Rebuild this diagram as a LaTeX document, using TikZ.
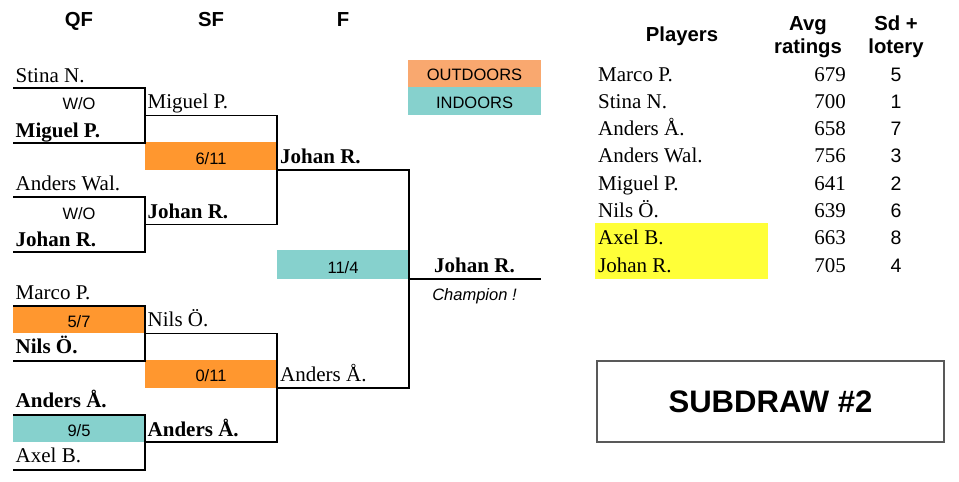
\documentclass[tikz,border=0pt]{standalone}
\usepackage{fontspec}
\setmainfont{Liberation Serif}
\setsansfont{Liberation Sans}
\definecolor{orng}{HTML}{FF972F}
\definecolor{tealc}{HTML}{86D1CD}
\definecolor{lorng}{HTML}{F9A86F}
\definecolor{yel}{HTML}{FFFF38}
\begin{document}
\begin{tikzpicture}[x=1pt,y=-1pt,
  nm/.style={anchor=base west,inner sep=0pt,font=\fontsize{21}{25}\selectfont},
  bnm/.style={anchor=base west,inner sep=0pt,font=\fontsize{21}{25}\selectfont\bfseries},
  cnm/.style={anchor=base,inner sep=0pt,font=\fontsize{21}{25}\selectfont\bfseries},
  sc/.style={anchor=base,inner sep=0pt,font=\sffamily\fontsize{16.5}{19}\selectfont},
  num/.style={anchor=base east,inner sep=0pt,font=\fontsize{21}{25}\selectfont},
  hd/.style={anchor=base,inner sep=0pt,font=\sffamily\bfseries\fontsize{20.3}{24}\selectfont},
  brk/.style={line width=1.2pt,black},
  ]
\useasboundingbox (0,0) rectangle (959,482);
% fills
\fill[orng] (145,142) rectangle (277,170);
\fill[orng] (13,306) rectangle (145,333);
\fill[orng] (145,360) rectangle (277,388);
\fill[tealc] (13,415) rectangle (145,442);
\fill[tealc] (277,250) rectangle (409,279);
\fill[lorng] (408,60) rectangle (541,87);
\fill[tealc] (408,87) rectangle (541,115);
\fill[yel] (595,223) rectangle (768,279);
% bracket corners
\coordinate (q1a) at (13,88);  \coordinate (q1b) at (145,88);  \coordinate (q1c) at (145,143); \coordinate (q1d) at (13,143);
\coordinate (q2a) at (13,197); \coordinate (q2b) at (145,197); \coordinate (q2c) at (145,252); \coordinate (q2d) at (13,252);
\coordinate (q3a) at (13,306); \coordinate (q3b) at (145,306); \coordinate (q3c) at (145,361); \coordinate (q3d) at (13,361);
\coordinate (q4a) at (13,415); \coordinate (q4b) at (145,415); \coordinate (q4c) at (145,470); \coordinate (q4d) at (13,470);
\coordinate (s1a) at (145,115.5); \coordinate (s1b) at (277,115.5); \coordinate (s1c) at (277,224.5); \coordinate (s1d) at (145,224.5);
\coordinate (s2a) at (145,333.5); \coordinate (s2b) at (277,333.5); \coordinate (s2c) at (277,442); \coordinate (s2d) at (145,442);
\coordinate (fa) at (277,170); \coordinate (fb) at (409,170); \coordinate (fc) at (409,388); \coordinate (fd) at (277,388);
\coordinate (ca) at (409,279); \coordinate (cb) at (541,279);
\draw[brk] (q1a) -- (q1b) -- (q1c) -- (q1d);
\draw[brk] (q2a) -- (q2b) -- (q2c) -- (q2d);
\draw[brk] (q3a) -- (q3b) -- (q3c) -- (q3d);
\draw[brk] (q4a) -- (q4b) -- (q4c) -- (q4d);
\draw[brk] (s1a) -- (s1b) -- (s1c) -- (s1d);
\draw[brk] (s2a) -- (s2b) -- (s2c) -- (s2d);
\draw[brk] (fa) -- (fb) -- (fc) -- (fd);
\draw[brk] (ca) -- (cb);
% headers
\node[hd] (hqf) at (79,26.7) {QF};
\node[hd] (hsf) at (211,26.7) {SF};
\node[hd] (hf) at (343,26.7) {F};
% QF
\node[nm] (n1) at (15.5,82) {Stina N.};
\node[sc] (w1) at (79,109) {W/O};
\node[bnm] (n2) at (15.5,137) {Miguel P.};
\node[nm] (n3) at (15.5,190) {Anders Wal.};
\node[sc] (w2) at (79,219) {W/O};
\node[bnm] (n4) at (15.5,246) {Johan R.};
\node[nm] (n5) at (15.5,299.3) {Marco P.};
\node[sc] (r1) at (79,327.7) {5/7};
\node[bnm] (n6) at (15.5,353.3) {Nils Ö.};
\node[bnm] (n7) at (15.5,407.3) {Anders Å.};
\node[sc] (r2) at (79,436.7) {9/5};
\node[nm] (n8) at (15.5,462.7) {Axel B.};
% SF
\node[nm] (s1) at (147.5,108.3) {Miguel P.};
\node[sc] (r3) at (211,164.3) {6/11};
\node[bnm] (s2) at (147.5,218.3) {Johan R.};
\node[nm] (s3) at (147.5,326) {Nils Ö.};
\node[sc] (r4) at (211,381.7) {0/11};
\node[bnm] (s4) at (147.5,436) {Anders Å.};
% F
\node[bnm] (f1) at (280,163.3) {Johan R.};
\node[sc] (r5) at (343,273.3) {11/4};
\node[nm] (f2) at (280,381.7) {Anders Å.};
\node[cnm] (ch) at (474.5,272.3) {Johan R.};
\node[sc,font=\sffamily\itshape\fontsize{16.5}{19}\selectfont] (cht) at (474.5,300) {Champion !};
% legend
\node[sc] (lo) at (474.5,80) {OUTDOORS};
\node[sc] (li) at (474.5,108.3) {INDOORS};
% table
\node[hd] (tp) at (682,41.7) {Players};
\node[hd] (ta1) at (808,30) {Avg};
\node[hd] (ta2) at (808,53.3) {ratings};
\node[hd] (ts1) at (896,30) {Sd +};
\node[hd] (ts2) at (896,53.3) {lotery};
\foreach \i/\n/\r/\s in {0/Marco P./679/5, 1/Stina N./700/1, 2/Anders Å./658/7, 3/Anders Wal./756/3, 4/Miguel P./641/2, 5/Nils Ö./639/6, 6/Axel B./663/8, 7/Johan R./705/4}{
  \node[nm] (tn\i) at (598,81+27.3*\i) {\n};
  \node[num] (tr\i) at (846,81+27.3*\i) {\r};
  \node[sc,font=\sffamily\fontsize{19.5}{22}\selectfont] (tl\i) at (896,81+27.3*\i) {\s};
}
% subdraw
\node[draw=black!65,line width=1.2pt,minimum width=347pt,minimum height=81pt,inner sep=0pt,
  font=\sffamily\bfseries\fontsize{31.1}{36}\selectfont] (sub) at (770.5,401.5) {SUBDRAW \#2};
\end{tikzpicture}
\end{document}
